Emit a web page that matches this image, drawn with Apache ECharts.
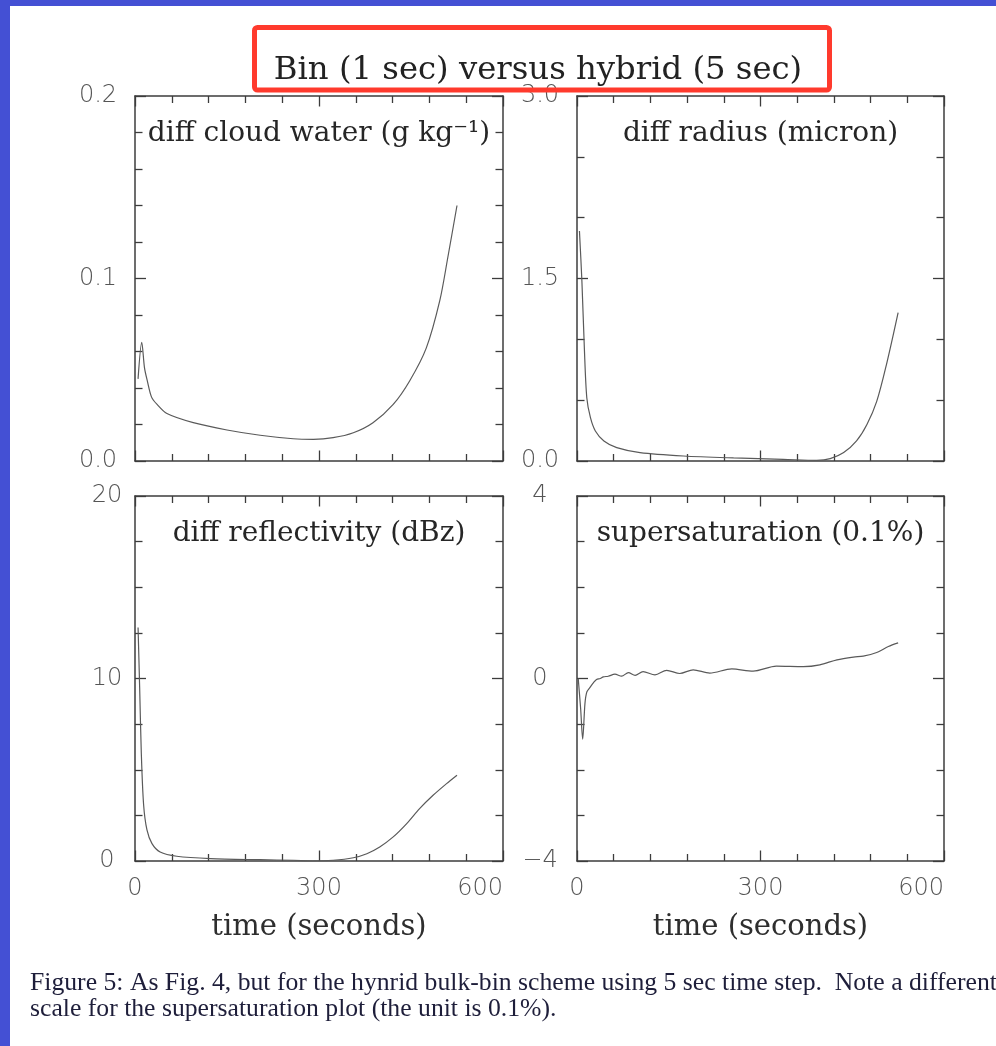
<!DOCTYPE html>
<html>
<head>
<meta charset="utf-8">
<script src="https://cdn.jsdelivr.net/npm/echarts@6/dist/echarts.min.js"></script>
<style>
  html, body { margin: 0; padding: 0; background: #ffffff; }
  #chart { width: 996px; height: 1046px; }
</style>
</head>
<body>
<div id="chart"></div>
<script>
// Shared time axis (seconds)
const timeTickLabels = ['0', '300', '600'];

// diff cloud water (g kg^-1)
const cloudTime = [5, 11, 15.5, 20, 27, 36, 52, 95, 150, 204, 258, 291, 323, 356, 388, 421, 448, 475, 497, 510, 525];
const cloudDiff = [0.045, 0.065, 0.051, 0.044, 0.035, 0.031, 0.026, 0.021, 0.017, 0.0141, 0.0122, 0.0119, 0.0128, 0.0155, 0.021, 0.031, 0.044, 0.062, 0.088, 0.1115, 0.14];
const cloudTickLabels = ['0.0', '0.1', '0.2'];

// diff radius (micron)
const radiusTime = [4, 8, 12, 16, 22, 30, 44, 65, 103, 174, 256, 337, 392, 414, 436, 457, 474, 490, 506, 525];
const radiusDiff = [1.89, 1.48, 0.93, 0.52, 0.356, 0.247, 0.165, 0.11, 0.069, 0.041, 0.025, 0.014, 0.005, 0.019, 0.069, 0.165, 0.30, 0.49, 0.795, 1.22];
const radiusTickLabels = ['0.0', '1.5', '3.0'];

// diff reflectivity (dBz)
const reflTime = [5, 7.6, 10.3, 14, 19.5, 27.7, 41, 68, 123, 204, 258, 290, 323, 356, 378, 399, 421, 443, 464, 486, 508, 525];
const reflDiff = [12.8, 9.5, 5.9, 3.1, 1.7, 0.95, 0.49, 0.26, 0.13, 0.07, 0.04, 0.0, 0.04, 0.18, 0.4, 0.77, 1.32, 2.05, 2.87, 3.6, 4.24, 4.7];
const reflTickLabels = ['0', '10', '20'];

// supersaturation (0.1%)
const satTime = [2, 6, 9.3, 13, 16, 21, 27, 32, 38, 43, 51, 62, 73, 84, 95, 108, 127.5, 146.6, 168, 190, 217, 253, 288, 326, 370, 397, 425, 452, 468, 490, 509, 525];
const satValue = [0, -0.67, -1.33, -0.55, -0.3, -0.2, -0.09, -0.02, 0, 0.036, 0.05, 0.094, 0.05, 0.13, 0.07, 0.15, 0.08, 0.18, 0.11, 0.19, 0.12, 0.21, 0.16, 0.27, 0.26, 0.30, 0.41, 0.47, 0.49, 0.57, 0.70, 0.78];
const satTickLabels = ['\u22124', '0', '4'];

const frameColor = '#3c3c3c';
const lineColor = '#5a5a5a';
const tickFont = 'DejaVu Sans';
const serifFont = 'DejaVu Serif';

const panels = [
  { title: 'diff cloud water (g kg\u207B\u00B9)', time: cloudTime, values: cloudDiff, ticks: cloudTickLabels,
    min: 0, max: 0.2, interval: 0.1, minorSplit: 5, left: 135, top: 96, width: 368, labelMargin: 37, bottomRow: false },
  { title: 'diff radius (micron)', time: radiusTime, values: radiusDiff, ticks: radiusTickLabels,
    min: 0, max: 3, interval: 1.5, minorSplit: 3, left: 577, top: 96, width: 367, labelMargin: 37, bottomRow: false },
  { title: 'diff reflectivity (dBz)', time: reflTime, values: reflDiff, ticks: reflTickLabels,
    min: 0, max: 20, interval: 10, minorSplit: 4, left: 135, top: 496, width: 368, labelMargin: 28, bottomRow: true },
  { title: 'supersaturation (0.1%)', time: satTime, values: satValue, ticks: satTickLabels,
    min: -4, max: 4, interval: 4, minorSplit: 4, left: 577, top: 496, width: 367, labelMargin: 37, bottomRow: true }
];
const panelHeight = 365;

const grids = [], xAxes = [], yAxes = [], series = [], graphics = [];

const tickStyle = { color: frameColor, width: 1.3 };
const lineAxis = { show: true, onZero: false, lineStyle: { color: frameColor, width: 1.5 } };

panels.forEach((p, k) => {
  grids.push({ left: p.left, top: p.top, width: p.width, height: panelHeight, containLabel: false });

  const xBase = {
    gridIndex: k, type: 'value', min: 0, max: 600, interval: 300,
    axisLine: lineAxis,
    axisTick: { show: true, inside: true, length: 10.5, lineStyle: tickStyle },
    minorTick: { show: true, splitNumber: 5, length: 7, lineStyle: tickStyle },
    splitLine: { show: false }, minorSplitLine: { show: false }
  };
  xAxes.push(Object.assign({}, xBase, {
    position: 'bottom',
    axisLabel: {
      show: p.bottomRow, margin: 16, fontFamily: tickFont, fontWeight: 200, fontSize: 24, color: '#555',
      showMinLabel: true, showMaxLabel: true, alignMaxLabel: 'right',
      formatter: (v, i) => timeTickLabels[i]
    },
    name: p.bottomRow ? 'time (seconds)' : '',
    nameLocation: 'middle', nameGap: 66,
    nameTextStyle: { fontFamily: serifFont, fontSize: 29, color: '#2e2e2e', align: 'center', verticalAlign: 'middle' }
  }));
  xAxes.push(Object.assign({}, xBase, { position: 'top', axisLabel: { show: false } }));

  const yBase = {
    gridIndex: k, type: 'value', min: p.min, max: p.max, interval: p.interval,
    axisLine: lineAxis,
    axisTick: { show: true, inside: true, length: 11, lineStyle: tickStyle },
    minorTick: { show: true, splitNumber: p.minorSplit, length: 7.5, lineStyle: tickStyle },
    splitLine: { show: false }, minorSplitLine: { show: false }
  };
  yAxes.push(Object.assign({}, yBase, {
    position: 'left',
    axisLabel: {
      show: true, margin: p.labelMargin, align: 'center', fontFamily: tickFont, fontWeight: 200,
      fontSize: 24, color: '#555', showMinLabel: true, showMaxLabel: true,
      formatter: (v, i) => p.ticks[i]
    }
  }));
  yAxes.push(Object.assign({}, yBase, { position: 'right', axisLabel: { show: false } }));

  series.push({
    type: 'line', xAxisIndex: 2 * k, yAxisIndex: 2 * k,
    data: p.time.map((t, i) => [t, p.values[i]]),
    showSymbol: false, smooth: 0.3, clip: true,
    lineStyle: { color: lineColor, width: 1.2 }
  });

  graphics.push({
    type: 'text', x: p.left + p.width / 2, y: p.top + 38, z: 10,
    style: { text: p.title, font: '28px "' + serifFont + '"', fill: '#262626', align: 'center', verticalAlign: 'middle' }
  });
});

// page frame, main heading and figure caption
graphics.push(
  { type: 'rect', shape: { x: 0, y: 0, width: 996, height: 6 }, style: { fill: '#4450d4' }, z: 50 },
  { type: 'rect', shape: { x: 0, y: 0, width: 10, height: 1046 }, style: { fill: '#4450d4' }, z: 50 },
  { type: 'text', x: 538, y: 71, z: 10,
    style: { text: 'Bin (1 sec) versus hybrid (5 sec)', font: '32.3px "' + serifFont + '"', fill: '#222', align: 'center', verticalAlign: 'middle' } },
  { type: 'rect', shape: { x: 254.5, y: 27.5, width: 575, height: 62.5, r: 3 },
    style: { fill: 'none', stroke: '#ff3a2d', lineWidth: 5 }, z: 100 },
  { type: 'text', x: 30, y: 983, z: 10,
    style: { text: 'Figure 5: As Fig. 4, but for the hynrid bulk-bin scheme using 5 sec time step.  Note a different',
      font: '25.7px "Liberation Serif"', fill: '#1e1e3a', align: 'left', verticalAlign: 'middle' } },
  { type: 'text', x: 30, y: 1009, z: 10,
    style: { text: 'scale for the supersaturation plot (the unit is 0.1%).',
      font: '25.7px "Liberation Serif"', fill: '#1e1e3a', align: 'left', verticalAlign: 'middle' } }
);

const chart = echarts.init(document.getElementById('chart'), null, { renderer: 'canvas' });
chart.setOption({
  backgroundColor: '#ffffff',
  animation: false,
  grid: grids,
  xAxis: xAxes,
  yAxis: yAxes,
  series: series,
  graphic: graphics
});
</script>
</body>
</html>
